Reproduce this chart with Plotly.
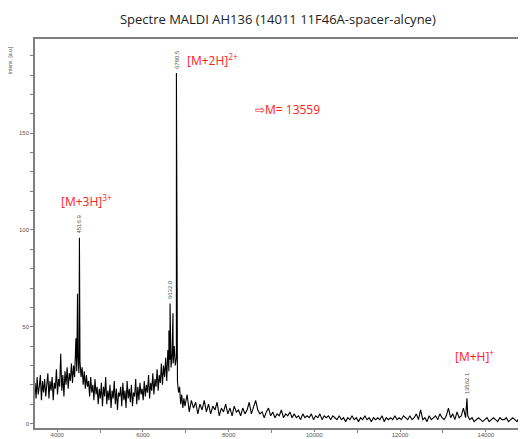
import numpy as np
import pandas as pd
import plotly.graph_objects as go

TITLE = "Spectre MALDI AH136 (14011 11F46A-spacer-alcyne)"

# low-mass part of the baseline: one value every 25 Da from 3480 to 6980
LOW_START, LOW_STEP = 3480, 25
baseline_low = [
    21, 13, 24, 15, 19, 25, 12, 22, 16, 23,
    14, 20, 26, 13, 22, 17, 24, 12, 21, 18,
    28, 15, 23, 19, 36, 17, 25, 14, 27, 20,
    29, 18, 26, 22, 31, 21, 30, 24, 35, 27,
    36, 26, 32, 24, 29, 20, 27, 18, 25, 19,
    22, 14, 24, 16, 20, 12, 23, 15, 19, 10,
    18, 13, 21, 9, 19, 14, 24, 10, 17, 12,
    20, 8, 17, 13, 22, 10, 18, 7, 16, 14,
    19, 9, 21, 12, 17, 8, 22, 13, 18, 11,
    20, 9, 16, 14, 23, 10, 19, 12, 21, 15,
    18, 12, 22, 14, 20, 16, 25, 13, 21, 17,
    26, 15, 23, 19, 28, 17, 25, 21, 31, 20,
    30, 24, 34, 22, 38, 27, 33, 29, 36, 31,
    40, 30, 34, 22, 16, 19, 10, 15, 8, 13,
    9,
]

# high-mass part: one value every 50 Da from 7030 to 14930
HIGH_START, HIGH_STEP = 7030, 50
baseline_high = [
    15, 6, 12, 8, 11, 5, 10, 7, 12,
    6, 10, 5, 9, 7, 11, 4, 8, 6, 10,
    5, 8, 4, 9, 6, 7, 4, 8, 5, 7,
    11, 5, 8, 12, 7, 5, 6, 3, 6, 8,
    4, 6, 3, 5, 4, 7, 3, 5, 4, 6,
    3, 5, 3, 4, 2, 5, 3, 4, 3, 5,
    2, 4, 3, 5, 2, 4, 3, 4, 2, 4,
    3, 2, 4, 2, 3, 1, 3, 2, 4, 2,
    3, 1, 3, 2, 4, 2, 3, 1, 3, 2,
    3, 2, 4, 1, 3, 2, 3, 2, 4, 2,
    3, 2, 4, 3, 2, 4, 2, 3, 5, 2,
    7, 2, 3, 1, 4, 2, 3, 4, 2, 5,
    3, 2, 4, 8, 3, 5, 2, 6, 3, 4,
    8, 3, 4, 2, 3, 1, 2, 3, 2, 1,
    2, 3, 1, 2, 3, 2, 1, 3, 2, 2,
    3, 1, 2, 3, 2, 1, 3, 2, 4, 3,
]

# peaks
peak_mz = [4435, 4472, 4516.9, 6605, 6632.0, 6700, 6780.5, 13562.1]
peak_int = [44, 67, 96, 48, 62, 57, 181, 13]

# labelled peaks
label_mz = [4516.9, 6632.0, 6780.5, 13562.1]
label_int = [96, 62, 181, 13]

# red ion annotations
ion_text = ["[M+3H]<sup>3+</sup>", "[M+2H]<sup>2+</sup>", "⇨M= 13559", "[M+H]<sup>+</sup>"]
ion_mz = [4050, 6990, 8560, 13230]
ion_y = [115, 188, 162, 35]

df = pd.concat([
    pd.DataFrame({"mz": LOW_START + LOW_STEP * np.arange(len(baseline_low)), "i": baseline_low}),
    pd.DataFrame({"mz": HIGH_START + HIGH_STEP * np.arange(len(baseline_high)), "i": baseline_high}),
    pd.DataFrame({"mz": peak_mz, "i": peak_int}),
]).sort_values("mz")

fig = go.Figure()
fig.add_trace(go.Scatter(x=df["mz"], y=df["i"], mode="lines",
                         line=dict(color="black", width=1.1), hoverinfo="skip"))

for m, h in zip(label_mz, label_int):
    fig.add_annotation(x=m, y=h, text=f"{m:.1f}", textangle=-90, showarrow=False,
                       xanchor="center", yanchor="bottom", yshift=2,
                       font=dict(size=6, color="#555555", family="Liberation Sans"))

for t, m, y in zip(ion_text, ion_mz, ion_y):
    fig.add_annotation(x=m, y=y, text=t, showarrow=False, xanchor="left",
                       font=dict(size=12, color="#ff2020", family="Open Sans"))

fig.add_annotation(xref="paper", yref="paper", x=-0.051, y=0.987, text="Intens. [a.u.]",
                   textangle=-90, showarrow=False, xanchor="center", yanchor="top",
                   font=dict(size=5, color="#555555", family="Liberation Sans"))

axis_common = dict(showgrid=False, zeroline=False, showline=True, linecolor="#808080",
                   linewidth=1.5, ticks="outside", tickcolor="#808080",
                   automargin=False, tickformat="d",
                   tickfont=dict(size=6, color="#555555", family="Liberation Sans"))

fig.update_xaxes(range=[3480, 14940], dtick=2000, tick0=0, mirror=True, ticklen=2,
                 ticklabelstandoff=-2,
                 minor=dict(dtick=1000, ticks="outside", ticklen=3, tickcolor="#808080"),
                 **axis_common)
fig.update_yaxes(range=[-2.3, 198.6], dtick=50, tick0=0, ticklen=3,
                 minor=dict(dtick=10, ticks="outside", ticklen=3, tickcolor="#808080"),
                 **axis_common)

# the page body adds an 8px offset, so the margins are shifted to compensate
fig.update_layout(
    width=526, height=439,
    margin=dict(l=27, r=8, t=31, b=19),
    plot_bgcolor="white", paper_bgcolor="white",
    showlegend=False,
    title=dict(text=TITLE, x=0.513, xanchor="center", y=0.973, yanchor="middle",
               font=dict(size=13, color="#222222", family="Open Sans")),
)

fig.write_html("out.html")
